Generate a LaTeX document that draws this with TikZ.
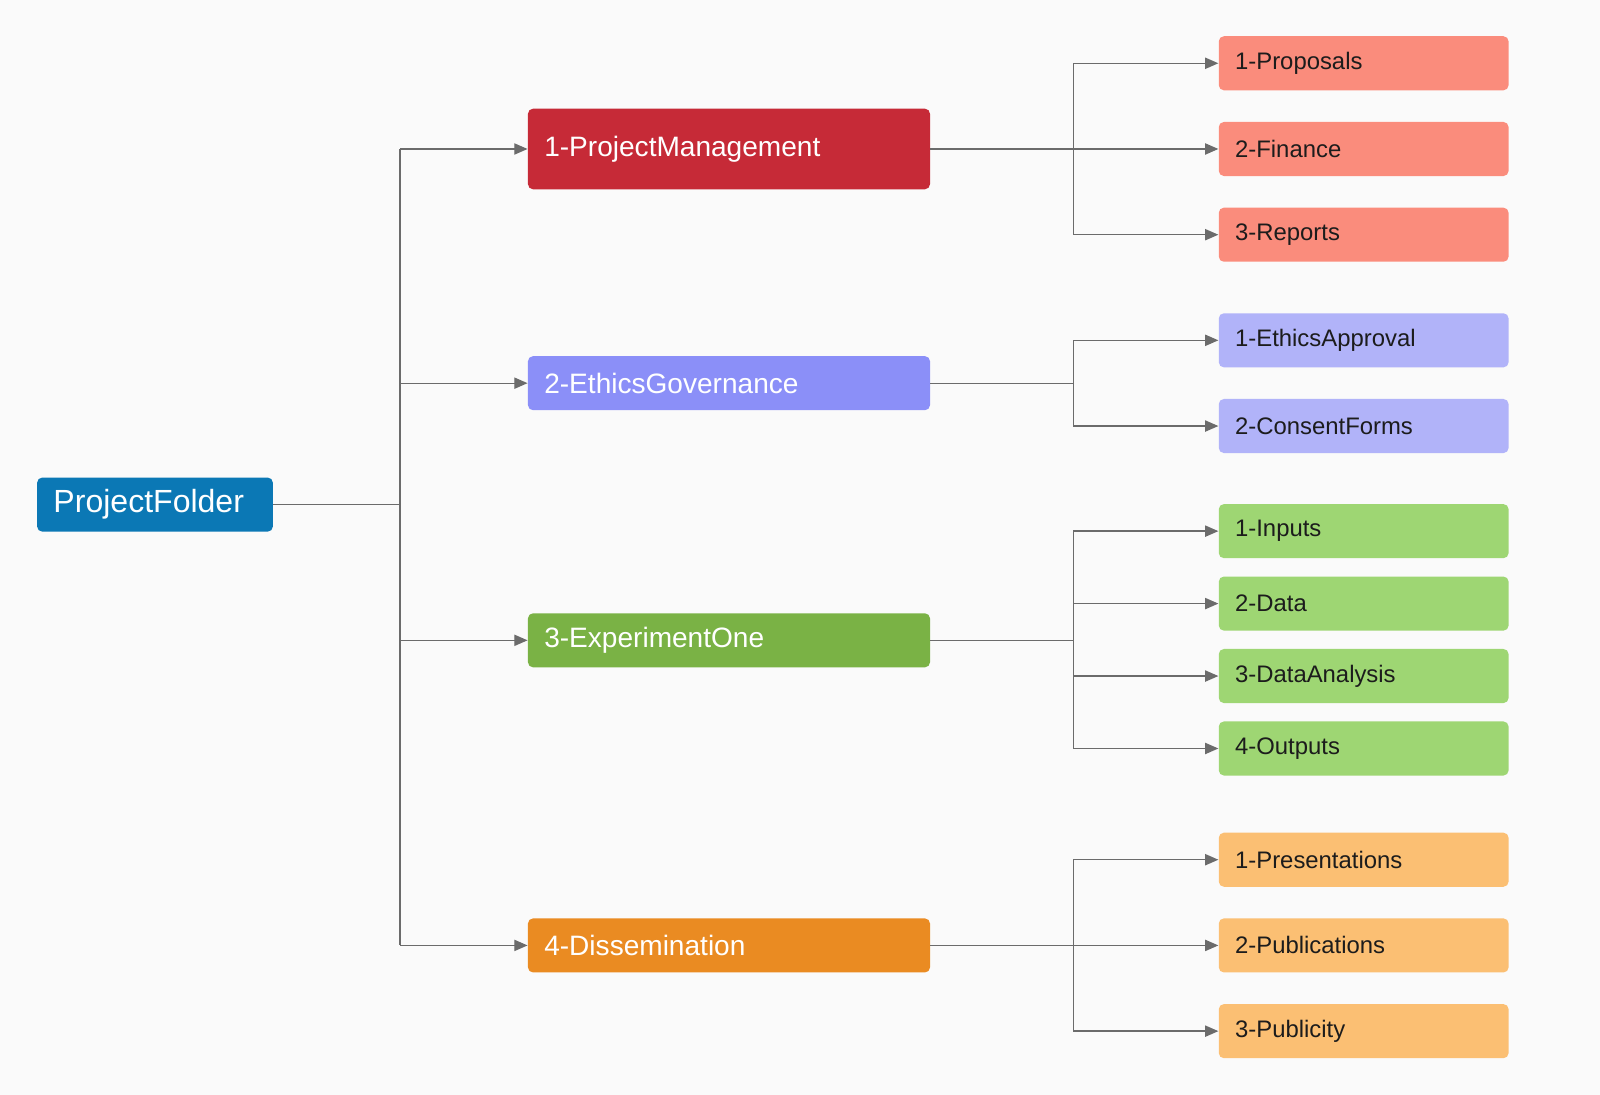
\documentclass[tikz,border=0pt]{standalone}
\usepackage{fontspec}
\setmainfont{Liberation Sans}
\usetikzlibrary{arrows.meta}

\definecolor{bgcol}{HTML}{FAFAFA}
\definecolor{linecol}{HTML}{6B6B6B}
\definecolor{leaftext}{HTML}{1C1C1C}
\definecolor{rootcol}{HTML}{0B78B5}
\definecolor{pmcol}{HTML}{C62A37}
\definecolor{pmleaf}{HTML}{FA8C7C}
\definecolor{egcol}{HTML}{8B8FF8}
\definecolor{egleaf}{HTML}{B1B3F9}
\definecolor{eocol}{HTML}{7AB245}
\definecolor{eoleaf}{HTML}{9ED673}
\definecolor{dicol}{HTML}{EA8B22}
\definecolor{dileaf}{HTML}{FBBF73}

\begin{document}
\begin{tikzpicture}[
        x=0.5pt, y=-0.5pt,
        box/.style={rounded corners=2.5pt, anchor=west, minimum height=26.5pt,
            inner xsep=8pt, inner ysep=0pt, align=left},
        rootbox/.style={box, fill=rootcol, text=white, text width=99.5pt,
            font=\fontsize{15.7}{18}\selectfont},
        topic/.style={box, text=white, text width=181pt,
            font=\fontsize{13.75}{16}\selectfont},
        leaf/.style={box, text=leaftext, text width=126pt,
            font=\fontsize{11.7}{14}\selectfont},
        ln/.style={-, color=linecol, line width=0.65pt},
        ar/.style={ln, -{Triangle[length=6.5pt, width=5.5pt]}},
    ]

    \fill[bgcol] (0,0) rectangle (1568,1073);

    % root and topics
    \node[rootbox] (root) at (36,494.5) {ProjectFolder};
    \node[topic, fill=pmcol, minimum height=39.5pt] (pm) at (517,146) {1-ProjectManagement};
    \node[topic, fill=egcol] (eg) at (517,375.5) {2-EthicsGovernance};
    \node[topic, fill=eocol] (eo) at (517,627.5) {3-ExperimentOne};
    \node[topic, fill=dicol] (di) at (517,926.5) {4-Dissemination};

    % leaves
    \node[leaf, fill=pmleaf] (prop) at (1194,62) {1-Proposals};
    \node[leaf, fill=pmleaf] (fin) at (1194,146) {2-Finance};
    \node[leaf, fill=pmleaf] (rep) at (1194,230) {3-Reports};

    \node[leaf, fill=egleaf] (appr) at (1194,333.5) {1-EthicsApproval};
    \node[leaf, fill=egleaf] (cons) at (1194,417.5) {2-ConsentForms};

    \node[leaf, fill=eoleaf] (inp) at (1194,520.5) {1-Inputs};
    \node[leaf, fill=eoleaf] (dat) at (1194,591.5) {2-Data};
    \node[leaf, fill=eoleaf] (ana) at (1194,662.5) {3-DataAnalysis};
    \node[leaf, fill=eoleaf] (outp) at (1194,733.5) {4-Outputs};

    \node[leaf, fill=dileaf] (pres) at (1194,842.5) {1-Presentations};
    \node[leaf, fill=dileaf] (publ) at (1194,926.5) {2-Publications};
    \node[leaf, fill=dileaf] (publy) at (1194,1010.5) {3-Publicity};

    \coordinate (trunk) at (392,494.5);
    \coordinate (split) at (1052,0);

    % root to topics
    \draw[ln] (root) -- (trunk);
    \draw[ln] (trunk |- pm) -- (trunk |- di);
    \path[ar]
    (trunk |- pm) edge (pm)
    (trunk |- eg) edge (eg)
    (trunk |- eo) edge (eo)
    (trunk |- di) edge (di)
    ;

    % topics to leaves
    \draw[ln] (pm) -- (split |- pm);
    \draw[ln] (split |- prop) -- (split |- rep);
    \path[ar]
    (split |- prop) edge (prop)
    (split |- fin) edge (fin)
    (split |- rep) edge (rep)
    ;

    \draw[ln] (eg) -- (split |- eg);
    \draw[ln] (split |- appr) -- (split |- cons);
    \path[ar]
    (split |- appr) edge (appr)
    (split |- cons) edge (cons)
    ;

    \draw[ln] (eo) -- (split |- eo);
    \draw[ln] (split |- inp) -- (split |- outp);
    \path[ar]
    (split |- inp) edge (inp)
    (split |- dat) edge (dat)
    (split |- ana) edge (ana)
    (split |- outp) edge (outp)
    ;

    \draw[ln] (di) -- (split |- di);
    \draw[ln] (split |- pres) -- (split |- publy);
    \path[ar]
    (split |- pres) edge (pres)
    (split |- publ) edge (publ)
    (split |- publy) edge (publy)
    ;
\end{tikzpicture}
\end{document}
